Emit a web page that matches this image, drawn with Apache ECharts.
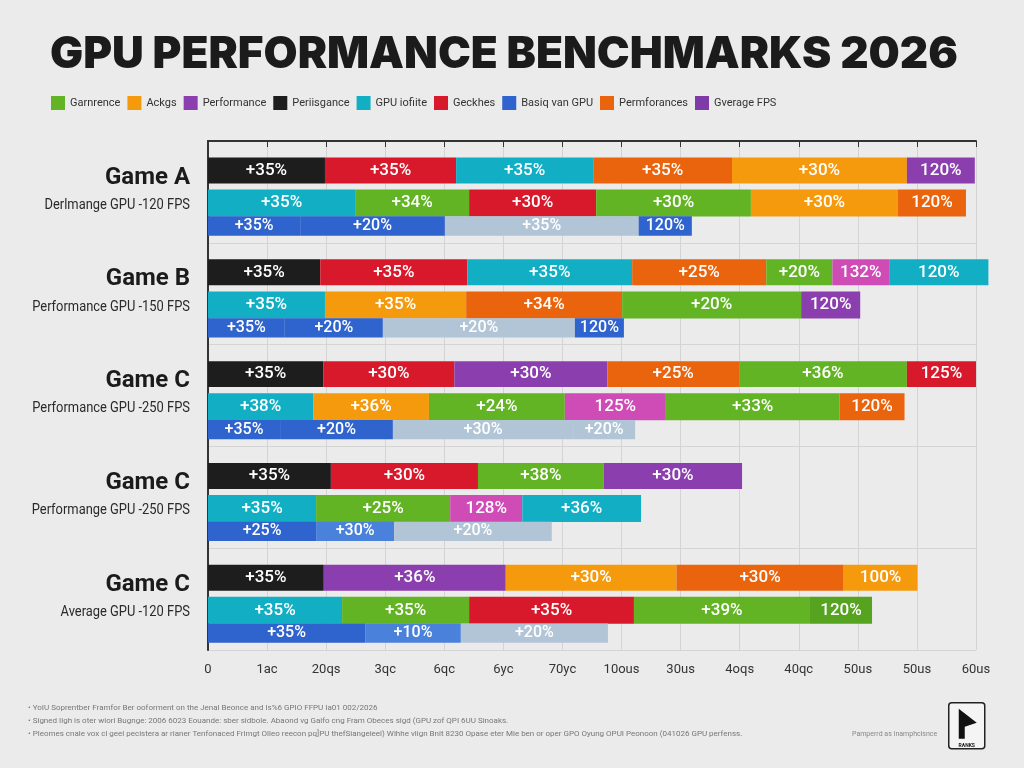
<!DOCTYPE html>
<html>
<head>
<meta charset="utf-8">
<title>GPU Performance Benchmarks 2026</title>
<script src="https://cdn.jsdelivr.net/npm/echarts@6/dist/echarts.min.js"></script>
<style>
  html, body { margin: 0; padding: 0; background: #ebebeb; }
  #chart { width: 1024px; height: 768px; }
</style>
</head>
<body>
<div id="chart"></div>
<script>
// --- data ---
const groupTitles = ['Game A', 'Game B', 'Game C', 'Game C', 'Game C'];
const groupSubtitles = [
  'Derlmange GPU -120 FPS',
  'Performance GPU -150 FPS',
  'Performance GPU -250 FPS',
  'Performange GPU -250 FPS',
  'Average GPU -120 FPS'
];
const xTickLabels = ['0', '1ac', '20qs', '3qc', '6qc', '6yc', '70yc', '10ous', '30us', '4oqs', '40qc', '50us', '50us', '60us'];
const legendNames = ['Garnrence', 'Ackgs', 'Performance', 'Periisgance', 'GPU iofiite', 'Geckhes', 'Basiq van GPU', 'Permforances', 'Gverage FPS'];
const legendKeys = ['green', 'orange', 'purple', 'black', 'cyan', 'red', 'blue', 'dkorange', 'violet'];

// segment lengths per bar (3 bars per game, top to bottom), in axis units
const rowWidths = [
  [1.98, 2.22, 2.32, 2.35, 2.96, 1.15],
  [2.49, 1.93, 2.15, 2.62, 2.49, 1.15],
  [1.56, 2.45, 3.28, 0.90],
  [1.90, 2.49, 2.79, 2.27, 1.12, 0.96, 1.68],
  [1.98, 2.39, 2.64, 3.03, 1.00],
  [1.30, 1.66, 3.25, 0.83],
  [1.95, 2.22, 2.59, 2.23, 2.84, 1.17],
  [1.78, 1.96, 2.30, 1.71, 2.94, 1.10],
  [1.22, 1.91, 3.05, 1.05],
  [2.08, 2.49, 2.13, 2.34],
  [1.83, 2.27, 1.22, 2.01],
  [1.83, 1.32, 2.67],
  [1.96, 3.08, 2.89, 2.83, 1.25],
  [2.27, 2.15, 2.79, 2.98, 1.05],
  [2.66, 1.62, 2.49]
];
const rowColors = [
  ['black', 'red', 'cyan', 'dkorange', 'orange', 'purple'],
  ['cyan', 'green', 'red', 'green', 'orange', 'dkorange'],
  ['blue', 'blue', 'light', 'blue'],
  ['black', 'red', 'cyan', 'dkorange', 'green', 'magenta', 'cyan'],
  ['cyan', 'orange', 'dkorange', 'green', 'purple'],
  ['blue', 'blue', 'light', 'blue'],
  ['black', 'red', 'purple', 'dkorange', 'green', 'red'],
  ['cyan', 'orange', 'green', 'magenta', 'green', 'dkorange'],
  ['blue', 'blue', 'light', 'light'],
  ['black', 'red', 'green', 'purple'],
  ['cyan', 'green', 'magenta', 'cyan'],
  ['blue', 'blue2', 'light'],
  ['black', 'purple', 'orange', 'dkorange', 'orange'],
  ['cyan', 'green', 'red', 'green', 'green2'],
  ['blue', 'blue2', 'light']
];
const rowLabels = [
  ['+35%', '+35%', '+35%', '+35%', '+30%', '120%'],
  ['+35%', '+34%', '+30%', '+30%', '+30%', '120%'],
  ['+35%', '+20%', '+35%', '120%'],
  ['+35%', '+35%', '+35%', '+25%', '+20%', '132%', '120%'],
  ['+35%', '+35%', '+34%', '+20%', '120%'],
  ['+35%', '+20%', '+20%', '120%'],
  ['+35%', '+30%', '+30%', '+25%', '+36%', '125%'],
  ['+38%', '+36%', '+24%', '125%', '+33%', '120%'],
  ['+35%', '+20%', '+30%', '+20%'],
  ['+35%', '+30%', '+38%', '+30%'],
  ['+35%', '+25%', '128%', '+36%'],
  ['+25%', '+30%', '+20%'],
  ['+35%', '+36%', '+30%', '+30%', '100%'],
  ['+35%', '+35%', '+35%', '+39%', '120%'],
  ['+35%', '+10%', '+20%']
];

const palette = {
  black: '#1d1d1d', red: '#d8192b', cyan: '#12afc4', dkorange: '#e9640d',
  orange: '#f69a0d', purple: '#8b3fae', violet: '#7e3aa6', green: '#63b425',
  green2: '#55a31f', magenta: '#cf4bb6', blue: '#2f63cd', blue2: '#4a82db',
  light: '#b2c5d7'
};

// bar placement inside each game band (y units; one band = 1)
const subCenter = [0.29, 0.61, 0.835];
const subHeight = [0.255, 0.265, 0.19];

// build segment items: [start, end, group, sub]
const segData = [];
const segMeta = [];
rowWidths.forEach((widths, r) => {
  let start = 0;
  widths.forEach((w, i) => {
    segData.push([start, start + w, Math.floor(r / 3), r % 3]);
    segMeta.push({ color: palette[rowColors[r][i]], label: rowLabels[r][i] });
    start += w;
  });
});

const chart = echarts.init(document.getElementById('chart'));

const legendSeries = legendNames.map((name, i) => ({
  name,
  type: 'line',
  data: [],
  itemStyle: { color: palette[legendKeys[i]] },
  lineStyle: { color: palette[legendKeys[i]] }
}));

chart.setOption({
  backgroundColor: '#ebebeb',
  animation: false,
  title: {
    text: 'GPU PERFORMANCE BENCHMARKS 2026',
    left: 45,
    top: 28,
    textStyle: { fontFamily: 'Inter', fontWeight: 900, fontSize: 44, color: '#1b1b1b' }
  },
  legend: {
    left: 46,
    top: 91,
    icon: 'rect',
    itemWidth: 14,
    itemHeight: 14,
    itemGap: 7,
    textStyle: { fontFamily: 'Roboto', fontSize: 11, color: '#333' },
    data: legendNames
  },
  grid: { left: 208, right: 48, top: 141, bottom: 118 },
  xAxis: {
    type: 'value',
    min: 0,
    max: 13,
    interval: 1,
    axisLine: { show: true, lineStyle: { color: '#333', width: 2 } },
    axisTick: { show: true, length: 6, lineStyle: { color: '#333' } },
    axisLabel: {
      margin: 13,
      fontFamily: 'Roboto',
      fontSize: 13,
      color: '#333',
      formatter: v => xTickLabels[v] || ''
    },
    splitLine: { show: true, lineStyle: { color: '#d4d4d4' } }
  },
  yAxis: {
    type: 'value',
    min: 0,
    max: 5,
    interval: 1,
    inverse: true,
    axisLine: { show: true, lineStyle: { color: '#333', width: 2 } },
    axisTick: { show: false },
    axisLabel: { show: false },
    splitLine: { show: true, lineStyle: { color: '#d4d4d4' } }
  },
  series: [
    {
      type: 'custom',
      name: 'segments',
      clip: false,
      encode: { x: [0, 1], y: 2 },
      data: segData,
      renderItem: (params, api) => {
        const sub = api.value(3);
        const yc = api.value(2) + subCenter[sub];
        const p0 = api.coord([api.value(0), yc]);
        const p1 = api.coord([api.value(1), yc]);
        const h = api.size([0, subHeight[sub]])[1];
        const meta = segMeta[params.dataIndex];
        return {
          type: 'rect',
          shape: { x: p0[0], y: p0[1] - h / 2, width: p1[0] - p0[0], height: h },
          style: { fill: meta.color },
          textContent: {
            style: {
              text: meta.label,
              fill: '#fff',
              font: '500 ' + (sub === 2 ? 16 : 17) + 'px Roboto'
            }
          },
          textConfig: { position: 'inside' }
        };
      }
    },
    {
      type: 'custom',
      name: 'games',
      clip: false,
      encode: { x: 0, y: 1 },
      data: groupTitles.map((t, g) => [0, g]),
      renderItem: (params, api) => {
        const g = api.value(1);
        const pTop = api.coord([0, g + subCenter[0]]);
        const pSub = api.coord([0, g + subCenter[1]]);
        return {
          type: 'group',
          children: [
            {
              type: 'text',
              x: pTop[0] - 18,
              y: pTop[1] + 7,
              style: {
                text: groupTitles[params.dataIndex],
                fill: '#1b1b1b',
                font: 'bold 24px Roboto',
                align: 'right',
                verticalAlign: 'middle'
              }
            },
            {
              type: 'text',
              x: pSub[0] - 18,
              y: pSub[1] + 2,
              scaleX: 0.86,
              originX: 0,
              originY: 0,
              style: {
                text: groupSubtitles[params.dataIndex],
                fill: '#2a2a2a',
                font: '15px Roboto',
                align: 'right',
                verticalAlign: 'middle'
              }
            }
          ]
        };
      }
    },
    ...legendSeries
  ],
  graphic: [
    {
      type: 'group',
      left: 28,
      top: 704,
      children: [
        { type: 'text', x: 0, y: 0, style: { text: '• YoIU Soprentber Framfor Ber ooforment on the Jenal Beonce and Is%6 GPIO FFPU Ia01 002/2026', fill: '#777', font: '8px Roboto' } },
        { type: 'text', x: 0, y: 13, style: { text: '• Signed Iigh is oter wiori Bugnge: 2006 6023 Eouande: sber sidbole. Abaond vg Gaifo cng Fram Obeces sigd (GPU zof QPI 6UU Sinoaks.', fill: '#777', font: '8px Roboto' } },
        { type: 'text', x: 0, y: 26, style: { text: '• Pleomes cnale vox cl geel pecistera ar rianer Tenfonaced Frimgt Olleo reecon pq]PU thefSiangeieel) Wihhe vlign Bnit 8230 Opase eter Mie ben or oper GPO Oyung OPUI Peonoon (041026 GPU perfenss.', fill: '#777', font: '8px Roboto' } }
      ]
    },
    {
      type: 'text',
      left: 852,
      top: 731,
      style: { text: 'Pamperrd as Inamphcisnce', fill: '#888', font: '7px Roboto' }
    },
    {
      type: 'group',
      left: 948,
      top: 702,
      children: [
        { type: 'rect', shape: { x: 0, y: 0, width: 36, height: 46, r: 3 }, style: { fill: '#f4f4f4', stroke: '#222', lineWidth: 1.5 } },
        { type: 'polygon', shape: { points: [[10, 6], [28, 20], [16, 24], [16, 36], [10, 36]] }, style: { fill: '#111' } },
        { type: 'text', x: 18, y: 40, style: { text: 'RANKS', fill: '#111', font: 'bold 5px Roboto', align: 'center' } }
      ]
    }
  ]
});
</script>
</body>
</html>
